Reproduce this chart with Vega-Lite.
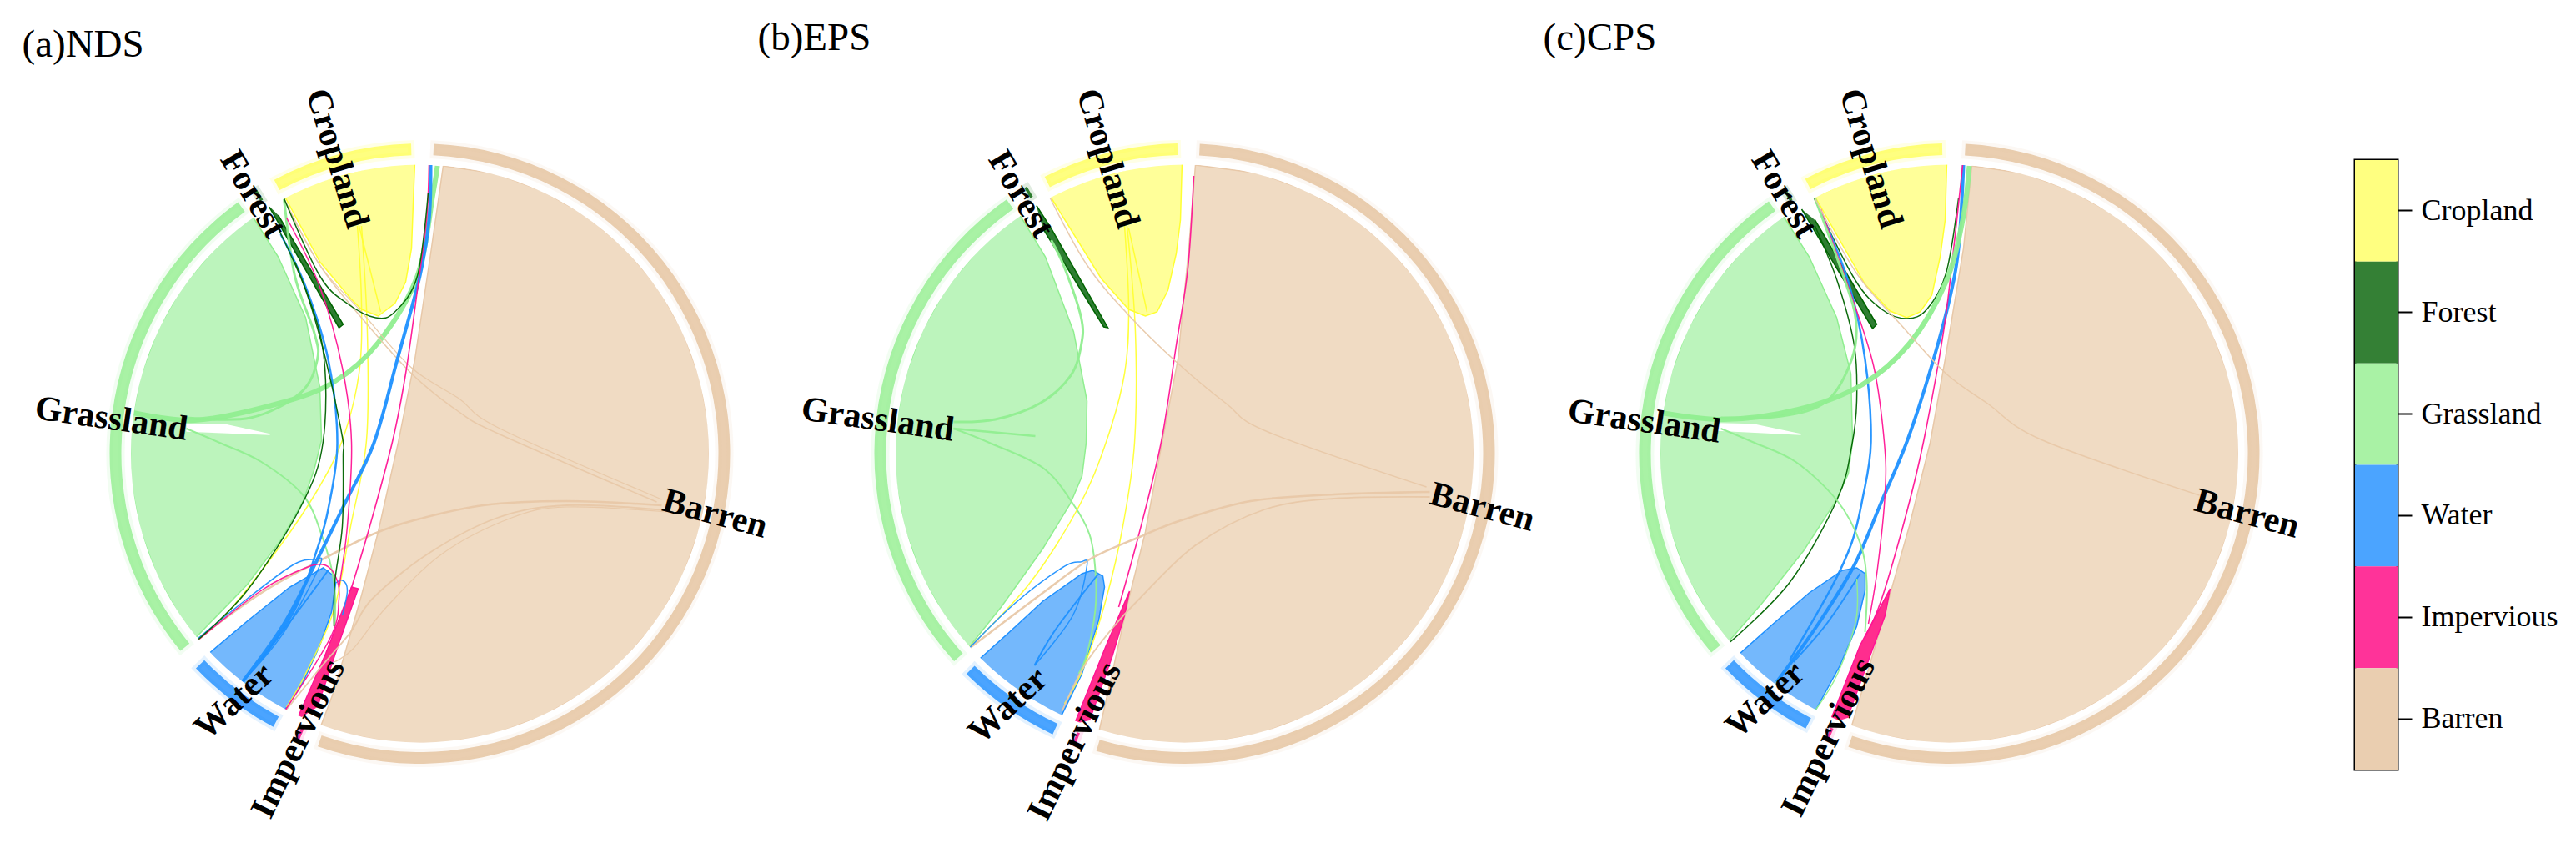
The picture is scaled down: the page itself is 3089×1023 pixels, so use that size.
{"$schema":"https://vega.github.io/schema/vega-lite/v6.json","padding":0,"background":"white","spacing":60,"config":{"view":{"stroke":null}},
"datasets":{"links":[
{"c":"BB","cover":"Barren","shape":"poly"},{"c":"GG","cover":"Grassland","shape":"poly"},{"c":"CC","cover":"Cropland","shape":"poly"},{"c":"WW","cover":"Water","shape":"poly"},{"c":"GAP","cover":"Gap","shape":"poly"},{"c":"FW","cover":"Forest","shape":"poly"},{"c":"IW","cover":"Impervious","shape":"poly"},
{"c":"G1","cover":"Grassland","shape":"thread","flow":6},{"c":"G2","cover":"Grassland","shape":"thread","flow":3},{"c":"G3","cover":"Grassland","shape":"thread","flow":2},{"c":"G4","cover":"Grassland","shape":"thread","flow":2.5},{"c":"G5","cover":"Grassland","shape":"thread","flow":1.5},
{"c":"Y1","cover":"Cropland","shape":"thread","flow":1.5},{"c":"Y2","cover":"Cropland","shape":"thread","flow":1.5},{"c":"Y3","cover":"Cropland","shape":"thread","flow":1.5},
{"c":"B1","cover":"Barren","shape":"thread","flow":2.5},{"c":"B2","cover":"Barren","shape":"thread","flow":1.8},{"c":"B3","cover":"Barren","shape":"thread","flow":1.2},{"c":"B4","cover":"Barren","shape":"thread","flow":1.5},{"c":"B5","cover":"Barren","shape":"thread","flow":1.2},
{"c":"W1","cover":"Water","shape":"thread","flow":4},{"c":"W2","cover":"Water","shape":"thread","flow":2.5},{"c":"W3","cover":"Water","shape":"thread","flow":1.5},{"c":"W4","cover":"Water","shape":"thread","flow":1.5},{"c":"W5","cover":"Water","shape":"thread","flow":2},
{"c":"I1","cover":"Impervious","shape":"thread","flow":1.6},{"c":"I2","cover":"Impervious","shape":"thread","flow":1.5},{"c":"I3","cover":"Impervious","shape":"thread","flow":1.5},
{"c":"F1","cover":"Forest","shape":"thread","flow":1.5},{"c":"F2","cover":"Forest","shape":"thread","flow":1.5},{"c":"F3","cover":"Forest","shape":"thread","flow":1.5}
],"legend":[{"k":"Cropland"},{"k":"Forest"},{"k":"Grassland"},{"k":"Water"},{"k":"Impervious"},{"k":"Barren"}]},
"hconcat":[{
"data":{"values":[
{"p":"NDS","t":"mask","a0":0,"a1":6.2832},{"p":"EPS","t":"mask","a0":0,"a1":6.2832},{"p":"CPS","t":"mask","a0":0,"a1":6.2832},
{"p":"NDS","t":"ring","k":"Barren","a0":0.045,"a1":3.477},{"p":"NDS","t":"ring","k":"Impervious","a0":3.54,"a1":3.55},{"p":"NDS","t":"ring","k":"Water","a0":3.634,"a1":3.948},{"p":"NDS","t":"ring","k":"Grassland","a0":4.023,"a1":5.657},{"p":"NDS","t":"ring","k":"Forest","a0":5.72,"a1":5.73},{"p":"NDS","t":"ring","k":"Cropland","a0":5.794,"a1":6.255},
{"p":"EPS","t":"ring","k":"Barren","a0":0.049,"a1":3.43},{"p":"EPS","t":"ring","k":"Impervious","a0":3.5,"a1":3.51},{"p":"EPS","t":"ring","k":"Water","a0":3.581,"a1":3.922},{"p":"EPS","t":"ring","k":"Grassland","a0":3.979,"a1":5.672},{"p":"EPS","t":"ring","k":"Forest","a0":5.74,"a1":5.75},{"p":"EPS","t":"ring","k":"Cropland","a0":5.815,"a1":6.26},
{"p":"CPS","t":"ring","k":"Barren","a0":0.052,"a1":3.473},{"p":"CPS","t":"ring","k":"Impervious","a0":3.54,"a1":3.55},{"p":"CPS","t":"ring","k":"Water","a0":3.623,"a1":3.948},{"p":"CPS","t":"ring","k":"Grassland","a0":4.016,"a1":5.662},{"p":"CPS","t":"ring","k":"Forest","a0":5.72,"a1":5.73},{"p":"CPS","t":"ring","k":"Cropland","a0":5.8,"a1":6.26},
{"p":"NDS","t":"title","k":"(a)NDS","x":-477,"y":-490},{"p":"EPS","t":"title","k":"(b)EPS","x":-512,"y":-498},{"p":"CPS","t":"title","k":"(c)CPS","x":-487,"y":-498},
{"p":"NDS","t":"label","k":"Cropland","x":-99,"y":-354,"r":73},{"p":"NDS","t":"label","k":"Forest","x":-200,"y":-311,"r":59},{"p":"NDS","t":"label","k":"Grassland","x":-370,"y":-42,"r":8},{"p":"NDS","t":"label","k":"Water","x":-223,"y":297,"r":-43},{"p":"NDS","t":"label","k":"Impervious","x":-146,"y":342,"r":-64},{"p":"NDS","t":"label","k":"Barren","x":354,"y":72,"r":15},
{"p":"EPS","t":"label","k":"Cropland","x":-92,"y":-354,"r":73},{"p":"EPS","t":"label","k":"Forest","x":-196,"y":-311,"r":59},{"p":"EPS","t":"label","k":"Grassland","x":-368,"y":-41,"r":8},{"p":"EPS","t":"label","k":"Water","x":-212,"y":302,"r":-43},{"p":"EPS","t":"label","k":"Impervious","x":-132,"y":345,"r":-64},{"p":"EPS","t":"label","k":"Barren","x":357,"y":64,"r":15},
{"p":"CPS","t":"label","k":"Cropland","x":-94,"y":-354,"r":73},{"p":"CPS","t":"label","k":"Forest","x":-198,"y":-311,"r":59},{"p":"CPS","t":"label","k":"Grassland","x":-366,"y":-39,"r":8},{"p":"CPS","t":"label","k":"Water","x":-221,"y":295,"r":-43},{"p":"CPS","t":"label","k":"Impervious","x":-145,"y":340,"r":-64},{"p":"CPS","t":"label","k":"Barren","x":357,"y":72,"r":15},

{"p":"NDS","c":"BB","x":28,"y":-345},{"p":"NDS","c":"BB","x":90,"y":-336},{"p":"NDS","c":"BB","x":147,"y":-315},{"p":"NDS","c":"BB","x":200,"y":-285},{"p":"NDS","c":"BB","x":246,"y":-246},{"p":"NDS","c":"BB","x":285,"y":-200},{"p":"NDS","c":"BB","x":315,"y":-147},{"p":"NDS","c":"BB","x":336,"y":-90},{"p":"NDS","c":"BB","x":347,"y":-30},{"p":"NDS","c":"BB","x":347,"y":30},{"p":"NDS","c":"BB","x":336,"y":90},{"p":"NDS","c":"BB","x":315,"y":147},{"p":"NDS","c":"BB","x":285,"y":200},{"p":"NDS","c":"BB","x":246,"y":246},{"p":"NDS","c":"BB","x":200,"y":285},{"p":"NDS","c":"BB","x":147,"y":315},{"p":"NDS","c":"BB","x":90,"y":336},{"p":"NDS","c":"BB","x":30,"y":347},{"p":"NDS","c":"BB","x":-30,"y":347},{"p":"NDS","c":"BB","x":-90,"y":336},{"p":"NDS","c":"BB","x":-120,"y":330},{"p":"NDS","c":"BB","x":-105,"y":290},{"p":"NDS","c":"BB","x":-90,"y":240},{"p":"NDS","c":"BB","x":-70,"y":170},{"p":"NDS","c":"BB","x":-50,"y":94},{"p":"NDS","c":"BB","x":-26,"y":-13},{"p":"NDS","c":"BB","x":-6,"y":-113},{"p":"NDS","c":"BB","x":13,"y":-240},{"p":"NDS","c":"BB","x":28,"y":-345},
{"p":"NDS","c":"GG","x":-203,"y":-288},{"p":"NDS","c":"GG","x":-170,"y":-236},{"p":"NDS","c":"GG","x":-137,"y":-163},{"p":"NDS","c":"GG","x":-120,"y":-80},{"p":"NDS","c":"GG","x":-118,"y":-16},{"p":"NDS","c":"GG","x":-127,"y":20},{"p":"NDS","c":"GG","x":-140,"y":57},{"p":"NDS","c":"GG","x":-167,"y":104},{"p":"NDS","c":"GG","x":-207,"y":157},{"p":"NDS","c":"GG","x":-270,"y":222},{"p":"NDS","c":"GG","x":-285,"y":200},{"p":"NDS","c":"GG","x":-315,"y":147},{"p":"NDS","c":"GG","x":-336,"y":90},{"p":"NDS","c":"GG","x":-347,"y":30},{"p":"NDS","c":"GG","x":-347,"y":-30},{"p":"NDS","c":"GG","x":-336,"y":-90},{"p":"NDS","c":"GG","x":-315,"y":-147},{"p":"NDS","c":"GG","x":-285,"y":-200},{"p":"NDS","c":"GG","x":-246,"y":-246},{"p":"NDS","c":"GG","x":-203,"y":-288},
{"p":"NDS","c":"GAP","x":-280,"y":-35},{"p":"NDS","c":"GAP","x":-235,"y":-35},{"p":"NDS","c":"GAP","x":-180,"y":-23},{"p":"NDS","c":"GAP","x":-280,"y":-27},
{"p":"NDS","c":"CC","x":-163,"y":-310},{"p":"NDS","c":"CC","x":-119,"y":-327},{"p":"NDS","c":"CC","x":-60,"y":-343},{"p":"NDS","c":"CC","x":-6,"y":-350},{"p":"NDS","c":"CC","x":-8,"y":-300},{"p":"NDS","c":"CC","x":-10,"y":-246},{"p":"NDS","c":"CC","x":-17,"y":-206},{"p":"NDS","c":"CC","x":-30,"y":-180},{"p":"NDS","c":"CC","x":-50,"y":-165},{"p":"NDS","c":"CC","x":-70,"y":-173},{"p":"NDS","c":"CC","x":-83,"y":-186},{"p":"NDS","c":"CC","x":-120,"y":-230},{"p":"NDS","c":"CC","x":-163,"y":-310},
{"p":"NDS","c":"WW","x":-258,"y":244},{"p":"NDS","c":"WW","x":-210,"y":279},{"p":"NDS","c":"WW","x":-163,"y":309},{"p":"NDS","c":"WW","x":-140,"y":274},{"p":"NDS","c":"WW","x":-120,"y":230},{"p":"NDS","c":"WW","x":-106,"y":190},{"p":"NDS","c":"WW","x":-101,"y":157},{"p":"NDS","c":"WW","x":-103,"y":147},{"p":"NDS","c":"WW","x":-116,"y":137},{"p":"NDS","c":"WW","x":-156,"y":160},{"p":"NDS","c":"WW","x":-206,"y":200},{"p":"NDS","c":"WW","x":-258,"y":244},
{"p":"NDS","c":"FW","x":-182,"y":-298},{"p":"NDS","c":"FW","x":-97,"y":-151},{"p":"NDS","c":"FW","x":-92,"y":-155},{"p":"NDS","c":"FW","x":-170,"y":-286},
{"p":"NDS","c":"IW","x":-148,"y":320},{"p":"NDS","c":"IW","x":-113,"y":240},{"p":"NDS","c":"IW","x":-82,"y":160},{"p":"NDS","c":"IW","x":-74,"y":162},{"p":"NDS","c":"IW","x":-97,"y":227},{"p":"NDS","c":"IW","x":-123,"y":304},
{"p":"NDS","c":"Y1","x":-75,"y":-273},{"p":"NDS","c":"Y1","x":-70,"y":-180},{"p":"NDS","c":"Y1","x":-73,"y":-96},{"p":"NDS","c":"Y1","x":-93,"y":-16},{"p":"NDS","c":"Y1","x":-123,"y":44},{"p":"NDS","c":"Y1","x":-167,"y":110},{"p":"NDS","c":"Y1","x":-230,"y":190},{"p":"NDS","c":"Y1","x":-267,"y":224},
{"p":"NDS","c":"Y2","x":-70,"y":-273},{"p":"NDS","c":"Y2","x":-63,"y":-146},{"p":"NDS","c":"Y2","x":-64,"y":-16},{"p":"NDS","c":"Y2","x":-83,"y":87},{"p":"NDS","c":"Y2","x":-103,"y":187},{"p":"NDS","c":"Y2","x":-137,"y":264},{"p":"NDS","c":"Y2","x":-160,"y":304},
{"p":"NDS","c":"Y3","x":-73,"y":-273},{"p":"NDS","c":"Y3","x":-47,"y":-170},
{"p":"NDS","c":"G1","x":-353,"y":-51},{"p":"NDS","c":"G1","x":-270,"y":-40},{"p":"NDS","c":"G1","x":-170,"y":-60},{"p":"NDS","c":"G1","x":-103,"y":-86},{"p":"NDS","c":"G1","x":-50,"y":-133},{"p":"NDS","c":"G1","x":-3,"y":-213},{"p":"NDS","c":"G1","x":16,"y":-313},{"p":"NDS","c":"G1","x":21,"y":-345},
{"p":"NDS","c":"G2","x":-280,"y":-43},{"p":"NDS","c":"G2","x":-203,"y":-43},{"p":"NDS","c":"G2","x":-143,"y":-73},{"p":"NDS","c":"G2","x":-123,"y":-113},{"p":"NDS","c":"G2","x":-127,"y":-146},{"p":"NDS","c":"G2","x":-150,"y":-213},{"p":"NDS","c":"G2","x":-163,"y":-306},
{"p":"NDS","c":"G3","x":-280,"y":-30},{"p":"NDS","c":"G3","x":-240,"y":-13},{"p":"NDS","c":"G3","x":-190,"y":10},{"p":"NDS","c":"G3","x":-140,"y":50},{"p":"NDS","c":"G3","x":-117,"y":100},{"p":"NDS","c":"G3","x":-103,"y":154},{"p":"NDS","c":"G3","x":-102,"y":207},
{"p":"NDS","c":"B1","x":290,"y":62},{"p":"NDS","c":"B1","x":176,"y":57},{"p":"NDS","c":"B1","x":76,"y":62},{"p":"NDS","c":"B1","x":-7,"y":80},{"p":"NDS","c":"B1","x":-57,"y":97},{"p":"NDS","c":"B1","x":-123,"y":130},{"p":"NDS","c":"B1","x":-190,"y":167},{"p":"NDS","c":"B1","x":-270,"y":225},
{"p":"NDS","c":"B2","x":296,"y":68},{"p":"NDS","c":"B2","x":176,"y":62},{"p":"NDS","c":"B2","x":93,"y":77},{"p":"NDS","c":"B2","x":10,"y":120},{"p":"NDS","c":"B2","x":-57,"y":174},{"p":"NDS","c":"B2","x":-83,"y":214},{"p":"NDS","c":"B2","x":-117,"y":254},{"p":"NDS","c":"B2","x":-160,"y":307},
{"p":"NDS","c":"B3","x":296,"y":70},{"p":"NDS","c":"B3","x":176,"y":64},{"p":"NDS","c":"B3","x":110,"y":77},{"p":"NDS","c":"B3","x":27,"y":120},{"p":"NDS","c":"B3","x":-40,"y":184},{"p":"NDS","c":"B3","x":-80,"y":234},{"p":"NDS","c":"B3","x":-103,"y":250},
{"p":"NDS","c":"B4","x":-163,"y":-306},{"p":"NDS","c":"B4","x":-120,"y":-226},{"p":"NDS","c":"B4","x":-70,"y":-163},{"p":"NDS","c":"B4","x":-10,"y":-96},{"p":"NDS","c":"B4","x":47,"y":-50},{"p":"NDS","c":"B4","x":96,"y":-23},{"p":"NDS","c":"B4","x":284,"y":58},
{"p":"NDS","c":"B5","x":-163,"y":-306},{"p":"NDS","c":"B5","x":-120,"y":-226},{"p":"NDS","c":"B5","x":-70,"y":-170},{"p":"NDS","c":"B5","x":-10,"y":-103},{"p":"NDS","c":"B5","x":47,"y":-66},{"p":"NDS","c":"B5","x":96,"y":-30},{"p":"NDS","c":"B5","x":290,"y":55},
{"p":"NDS","c":"W1","x":13,"y":-346},{"p":"NDS","c":"W1","x":11,"y":-280},{"p":"NDS","c":"W1","x":0,"y":-213},{"p":"NDS","c":"W1","x":-27,"y":-113},{"p":"NDS","c":"W1","x":-55,"y":-13},{"p":"NDS","c":"W1","x":-90,"y":60},{"p":"NDS","c":"W1","x":-123,"y":127},{"p":"NDS","c":"W1","x":-163,"y":204},{"p":"NDS","c":"W1","x":-213,"y":274},
{"p":"NDS","c":"W2","x":-167,"y":-263},{"p":"NDS","c":"W2","x":-137,"y":-200},{"p":"NDS","c":"W2","x":-110,"y":-113},{"p":"NDS","c":"W2","x":-99,"y":-13},{"p":"NDS","c":"W2","x":-110,"y":67},{"p":"NDS","c":"W2","x":-123,"y":114},{"p":"NDS","c":"W2","x":-150,"y":187},{"p":"NDS","c":"W2","x":-190,"y":247},
{"p":"NDS","c":"W3","x":-270,"y":225},{"p":"NDS","c":"W3","x":-207,"y":174},{"p":"NDS","c":"W3","x":-153,"y":134},{"p":"NDS","c":"W3","x":-127,"y":127},{"p":"NDS","c":"W3","x":-120,"y":134},{"p":"NDS","c":"W3","x":-163,"y":214},{"p":"NDS","c":"W3","x":-213,"y":274},
{"p":"NDS","c":"W4","x":-103,"y":157},{"p":"NDS","c":"W4","x":-93,"y":152},{"p":"NDS","c":"W4","x":-87,"y":164},{"p":"NDS","c":"W4","x":-93,"y":194},
{"p":"NDS","c":"W5","x":-193,"y":250},{"p":"NDS","c":"W5","x":-150,"y":194},{"p":"NDS","c":"W5","x":-110,"y":140},
{"p":"NDS","c":"I1","x":11,"y":-346},{"p":"NDS","c":"I1","x":8,"y":-280},{"p":"NDS","c":"I1","x":-3,"y":-196},{"p":"NDS","c":"I1","x":-17,"y":-96},{"p":"NDS","c":"I1","x":-33,"y":-14},{"p":"NDS","c":"I1","x":-60,"y":87},{"p":"NDS","c":"I1","x":-83,"y":164},
{"p":"NDS","c":"I2","x":-160,"y":-283},{"p":"NDS","c":"I2","x":-120,"y":-200},{"p":"NDS","c":"I2","x":-93,"y":-103},{"p":"NDS","c":"I2","x":-82,"y":-14},{"p":"NDS","c":"I2","x":-87,"y":87},{"p":"NDS","c":"I2","x":-97,"y":160},
{"p":"NDS","c":"I3","x":-270,"y":227},{"p":"NDS","c":"I3","x":-190,"y":164},{"p":"NDS","c":"I3","x":-137,"y":137},{"p":"NDS","c":"I3","x":-113,"y":134},{"p":"NDS","c":"I3","x":-100,"y":150},{"p":"NDS","c":"I3","x":-97,"y":174},{"p":"NDS","c":"I3","x":-107,"y":220},{"p":"NDS","c":"I3","x":-163,"y":310},
{"p":"NDS","c":"F1","x":-163,"y":-306},{"p":"NDS","c":"F1","x":-120,"y":-213},{"p":"NDS","c":"F1","x":-87,"y":-180},{"p":"NDS","c":"F1","x":-53,"y":-163},{"p":"NDS","c":"F1","x":-30,"y":-170},{"p":"NDS","c":"F1","x":-3,"y":-213},{"p":"NDS","c":"F1","x":10,"y":-313},
{"p":"NDS","c":"F2","x":-170,"y":-270},{"p":"NDS","c":"F2","x":-137,"y":-196},{"p":"NDS","c":"F2","x":-113,"y":-113},{"p":"NDS","c":"F2","x":-93,"y":-20},{"p":"NDS","c":"F2","x":-92,"y":4},{"p":"NDS","c":"F2","x":-93,"y":87},{"p":"NDS","c":"F2","x":-102,"y":154},{"p":"NDS","c":"F2","x":-103,"y":207},
{"p":"NDS","c":"F3","x":-150,"y":-230},{"p":"NDS","c":"F3","x":-117,"y":-130},{"p":"NDS","c":"F3","x":-116,"y":-15},{"p":"NDS","c":"F3","x":-143,"y":64},{"p":"NDS","c":"F3","x":-207,"y":164},{"p":"NDS","c":"F3","x":-267,"y":224},

{"p":"EPS","c":"BB","x":13,"y":-346},{"p":"EPS","c":"BB","x":90,"y":-336},{"p":"EPS","c":"BB","x":147,"y":-315},{"p":"EPS","c":"BB","x":200,"y":-285},{"p":"EPS","c":"BB","x":246,"y":-246},{"p":"EPS","c":"BB","x":285,"y":-200},{"p":"EPS","c":"BB","x":315,"y":-147},{"p":"EPS","c":"BB","x":336,"y":-90},{"p":"EPS","c":"BB","x":347,"y":-30},{"p":"EPS","c":"BB","x":347,"y":30},{"p":"EPS","c":"BB","x":336,"y":90},{"p":"EPS","c":"BB","x":315,"y":147},{"p":"EPS","c":"BB","x":285,"y":200},{"p":"EPS","c":"BB","x":246,"y":246},{"p":"EPS","c":"BB","x":200,"y":285},{"p":"EPS","c":"BB","x":147,"y":315},{"p":"EPS","c":"BB","x":90,"y":336},{"p":"EPS","c":"BB","x":30,"y":347},{"p":"EPS","c":"BB","x":-30,"y":347},{"p":"EPS","c":"BB","x":-103,"y":335},{"p":"EPS","c":"BB","x":-86,"y":260},{"p":"EPS","c":"BB","x":-70,"y":187},{"p":"EPS","c":"BB","x":-47,"y":94},{"p":"EPS","c":"BB","x":-27,"y":-13},{"p":"EPS","c":"BB","x":-8,"y":-113},{"p":"EPS","c":"BB","x":5,"y":-246},{"p":"EPS","c":"BB","x":13,"y":-346},
{"p":"EPS","c":"GG","x":-200,"y":-290},{"p":"EPS","c":"GG","x":-167,"y":-236},{"p":"EPS","c":"GG","x":-133,"y":-146},{"p":"EPS","c":"GG","x":-117,"y":-63},{"p":"EPS","c":"GG","x":-118,"y":-13},{"p":"EPS","c":"GG","x":-123,"y":27},{"p":"EPS","c":"GG","x":-137,"y":60},{"p":"EPS","c":"GG","x":-170,"y":114},{"p":"EPS","c":"GG","x":-220,"y":184},{"p":"EPS","c":"GG","x":-260,"y":234},{"p":"EPS","c":"GG","x":-285,"y":200},{"p":"EPS","c":"GG","x":-315,"y":147},{"p":"EPS","c":"GG","x":-336,"y":90},{"p":"EPS","c":"GG","x":-347,"y":30},{"p":"EPS","c":"GG","x":-347,"y":-30},{"p":"EPS","c":"GG","x":-336,"y":-90},{"p":"EPS","c":"GG","x":-315,"y":-147},{"p":"EPS","c":"GG","x":-285,"y":-200},{"p":"EPS","c":"GG","x":-246,"y":-246},{"p":"EPS","c":"GG","x":-200,"y":-290},
{"p":"EPS","c":"CC","x":-162,"y":-310},{"p":"EPS","c":"CC","x":-119,"y":-327},{"p":"EPS","c":"CC","x":-60,"y":-343},{"p":"EPS","c":"CC","x":-3,"y":-350},{"p":"EPS","c":"CC","x":-5,"y":-280},{"p":"EPS","c":"CC","x":-10,"y":-240},{"p":"EPS","c":"CC","x":-20,"y":-196},{"p":"EPS","c":"CC","x":-33,"y":-170},{"p":"EPS","c":"CC","x":-47,"y":-165},{"p":"EPS","c":"CC","x":-67,"y":-173},{"p":"EPS","c":"CC","x":-100,"y":-210},{"p":"EPS","c":"CC","x":-162,"y":-310},
{"p":"EPS","c":"WW","x":-250,"y":250},{"p":"EPS","c":"WW","x":-200,"y":287},{"p":"EPS","c":"WW","x":-148,"y":315},{"p":"EPS","c":"WW","x":-123,"y":264},{"p":"EPS","c":"WW","x":-103,"y":200},{"p":"EPS","c":"WW","x":-96,"y":160},{"p":"EPS","c":"WW","x":-98,"y":147},{"p":"EPS","c":"WW","x":-110,"y":140},{"p":"EPS","c":"WW","x":-123,"y":144},{"p":"EPS","c":"WW","x":-170,"y":177},{"p":"EPS","c":"WW","x":-210,"y":214},{"p":"EPS","c":"WW","x":-250,"y":250},
{"p":"EPS","c":"FW","x":-178,"y":-298},{"p":"EPS","c":"FW","x":-160,"y":-270},{"p":"EPS","c":"FW","x":-92,"y":-151},{"p":"EPS","c":"FW","x":-97,"y":-152},{"p":"EPS","c":"FW","x":-170,"y":-270},
{"p":"EPS","c":"IW","x":-132,"y":324},{"p":"EPS","c":"IW","x":-94,"y":230},{"p":"EPS","c":"IW","x":-66,"y":165},{"p":"EPS","c":"IW","x":-72,"y":194},{"p":"EPS","c":"IW","x":-87,"y":244},{"p":"EPS","c":"IW","x":-114,"y":320},
{"p":"EPS","c":"G2","x":-277,"y":-38},{"p":"EPS","c":"G2","x":-227,"y":-41},{"p":"EPS","c":"G2","x":-174,"y":-60},{"p":"EPS","c":"G2","x":-137,"y":-93},{"p":"EPS","c":"G2","x":-124,"y":-130},{"p":"EPS","c":"G2","x":-124,"y":-163},{"p":"EPS","c":"G2","x":-144,"y":-223},{"p":"EPS","c":"G2","x":-160,"y":-256},
{"p":"EPS","c":"G3","x":-277,"y":-30},{"p":"EPS","c":"G3","x":-234,"y":-13},{"p":"EPS","c":"G3","x":-170,"y":17},{"p":"EPS","c":"G3","x":-134,"y":60},{"p":"EPS","c":"G3","x":-114,"y":97},{"p":"EPS","c":"G3","x":-107,"y":140},{"p":"EPS","c":"G3","x":-107,"y":187},{"p":"EPS","c":"G3","x":-117,"y":240},{"p":"EPS","c":"G3","x":-127,"y":264},
{"p":"EPS","c":"G4","x":-277,"y":-30},{"p":"EPS","c":"G4","x":-179,"y":-21},
{"p":"EPS","c":"Y1","x":-72,"y":-273},{"p":"EPS","c":"Y1","x":-67,"y":-173},{"p":"EPS","c":"Y1","x":-72,"y":-96},{"p":"EPS","c":"Y1","x":-94,"y":-14},{"p":"EPS","c":"Y1","x":-127,"y":64},{"p":"EPS","c":"Y1","x":-187,"y":157},{"p":"EPS","c":"Y1","x":-260,"y":234},
{"p":"EPS","c":"Y2","x":-69,"y":-273},{"p":"EPS","c":"Y2","x":-59,"y":-146},{"p":"EPS","c":"Y2","x":-60,"y":-13},{"p":"EPS","c":"Y2","x":-74,"y":87},{"p":"EPS","c":"Y2","x":-94,"y":174},{"p":"EPS","c":"Y2","x":-120,"y":254},{"p":"EPS","c":"Y2","x":-144,"y":300},
{"p":"EPS","c":"Y3","x":-67,"y":-270},{"p":"EPS","c":"Y3","x":-45,"y":-170},
{"p":"EPS","c":"I1","x":11,"y":-333},{"p":"EPS","c":"I1","x":4,"y":-223},{"p":"EPS","c":"I1","x":-10,"y":-130},{"p":"EPS","c":"I1","x":-28,"y":-14},{"p":"EPS","c":"I1","x":-54,"y":94},{"p":"EPS","c":"I1","x":-79,"y":184},
{"p":"EPS","c":"B1","x":294,"y":46},{"p":"EPS","c":"B1","x":179,"y":49},{"p":"EPS","c":"B1","x":79,"y":57},{"p":"EPS","c":"B1","x":-4,"y":80},{"p":"EPS","c":"B1","x":-54,"y":100},{"p":"EPS","c":"B1","x":-114,"y":127},{"p":"EPS","c":"B1","x":-170,"y":167},{"p":"EPS","c":"B1","x":-260,"y":235},
{"p":"EPS","c":"B2","x":294,"y":52},{"p":"EPS","c":"B2","x":179,"y":54},{"p":"EPS","c":"B2","x":96,"y":67},{"p":"EPS","c":"B2","x":13,"y":110},{"p":"EPS","c":"B2","x":-54,"y":174},{"p":"EPS","c":"B2","x":-87,"y":210},{"p":"EPS","c":"B2","x":-120,"y":254},{"p":"EPS","c":"B2","x":-147,"y":309},
{"p":"EPS","c":"B4","x":-162,"y":-308},{"p":"EPS","c":"B4","x":-117,"y":-226},{"p":"EPS","c":"B4","x":-67,"y":-166},{"p":"EPS","c":"B4","x":-10,"y":-110},{"p":"EPS","c":"B4","x":50,"y":-60},{"p":"EPS","c":"B4","x":100,"y":-26},{"p":"EPS","c":"B4","x":290,"y":40},
{"p":"EPS","c":"W3","x":-260,"y":235},{"p":"EPS","c":"W3","x":-204,"y":180},{"p":"EPS","c":"W3","x":-147,"y":137},{"p":"EPS","c":"W3","x":-125,"y":130},{"p":"EPS","c":"W3","x":-117,"y":134},{"p":"EPS","c":"W3","x":-134,"y":194},{"p":"EPS","c":"W3","x":-180,"y":254},
{"p":"EPS","c":"W5","x":-104,"y":145},{"p":"EPS","c":"W5","x":-154,"y":210},{"p":"EPS","c":"W5","x":-180,"y":254},

{"p":"CPS","c":"BB","x":27,"y":-345},{"p":"CPS","c":"BB","x":90,"y":-336},{"p":"CPS","c":"BB","x":147,"y":-315},{"p":"CPS","c":"BB","x":200,"y":-285},{"p":"CPS","c":"BB","x":246,"y":-246},{"p":"CPS","c":"BB","x":285,"y":-200},{"p":"CPS","c":"BB","x":315,"y":-147},{"p":"CPS","c":"BB","x":336,"y":-90},{"p":"CPS","c":"BB","x":347,"y":-30},{"p":"CPS","c":"BB","x":347,"y":30},{"p":"CPS","c":"BB","x":336,"y":90},{"p":"CPS","c":"BB","x":315,"y":147},{"p":"CPS","c":"BB","x":285,"y":200},{"p":"CPS","c":"BB","x":246,"y":246},{"p":"CPS","c":"BB","x":200,"y":285},{"p":"CPS","c":"BB","x":147,"y":315},{"p":"CPS","c":"BB","x":90,"y":336},{"p":"CPS","c":"BB","x":30,"y":347},{"p":"CPS","c":"BB","x":-30,"y":347},{"p":"CPS","c":"BB","x":-90,"y":336},{"p":"CPS","c":"BB","x":-118,"y":330},{"p":"CPS","c":"BB","x":-81,"y":204},{"p":"CPS","c":"BB","x":-48,"y":87},{"p":"CPS","c":"BB","x":-23,"y":-13},{"p":"CPS","c":"BB","x":-5,"y":-113},{"p":"CPS","c":"BB","x":17,"y":-246},{"p":"CPS","c":"BB","x":27,"y":-345},
{"p":"CPS","c":"GG","x":-201,"y":-288},{"p":"CPS","c":"GG","x":-168,"y":-236},{"p":"CPS","c":"GG","x":-135,"y":-163},{"p":"CPS","c":"GG","x":-118,"y":-96},{"p":"CPS","c":"GG","x":-116,"y":-14},{"p":"CPS","c":"GG","x":-121,"y":24},{"p":"CPS","c":"GG","x":-136,"y":57},{"p":"CPS","c":"GG","x":-175,"y":117},{"p":"CPS","c":"GG","x":-225,"y":180},{"p":"CPS","c":"GG","x":-266,"y":227},{"p":"CPS","c":"GG","x":-285,"y":200},{"p":"CPS","c":"GG","x":-315,"y":147},{"p":"CPS","c":"GG","x":-336,"y":90},{"p":"CPS","c":"GG","x":-347,"y":30},{"p":"CPS","c":"GG","x":-347,"y":-30},{"p":"CPS","c":"GG","x":-336,"y":-90},{"p":"CPS","c":"GG","x":-315,"y":-147},{"p":"CPS","c":"GG","x":-285,"y":-200},{"p":"CPS","c":"GG","x":-246,"y":-246},{"p":"CPS","c":"GG","x":-201,"y":-288},
{"p":"CPS","c":"GAP","x":-278,"y":-36},{"p":"CPS","c":"GAP","x":-235,"y":-35},{"p":"CPS","c":"GAP","x":-178,"y":-23},{"p":"CPS","c":"GAP","x":-278,"y":-28},
{"p":"CPS","c":"CC","x":-161,"y":-308},{"p":"CPS","c":"CC","x":-119,"y":-327},{"p":"CPS","c":"CC","x":-60,"y":-343},{"p":"CPS","c":"CC","x":-3,"y":-350},{"p":"CPS","c":"CC","x":-5,"y":-280},{"p":"CPS","c":"CC","x":-11,"y":-236},{"p":"CPS","c":"CC","x":-21,"y":-190},{"p":"CPS","c":"CC","x":-35,"y":-170},{"p":"CPS","c":"CC","x":-51,"y":-163},{"p":"CPS","c":"CC","x":-71,"y":-171},{"p":"CPS","c":"CC","x":-101,"y":-203},{"p":"CPS","c":"CC","x":-161,"y":-308},
{"p":"CPS","c":"WW","x":-256,"y":244},{"p":"CPS","c":"WW","x":-210,"y":279},{"p":"CPS","c":"WW","x":-161,"y":309},{"p":"CPS","c":"WW","x":-131,"y":254},{"p":"CPS","c":"WW","x":-111,"y":207},{"p":"CPS","c":"WW","x":-101,"y":164},{"p":"CPS","c":"WW","x":-101,"y":144},{"p":"CPS","c":"WW","x":-111,"y":137},{"p":"CPS","c":"WW","x":-128,"y":140},{"p":"CPS","c":"WW","x":-168,"y":167},{"p":"CPS","c":"WW","x":-211,"y":204},{"p":"CPS","c":"WW","x":-256,"y":244},
{"p":"CPS","c":"FW","x":-177,"y":-293},{"p":"CPS","c":"FW","x":-92,"y":-150},{"p":"CPS","c":"FW","x":-87,"y":-155},{"p":"CPS","c":"FW","x":-161,"y":-280},
{"p":"CPS","c":"IW","x":-144,"y":324},{"p":"CPS","c":"IW","x":-107,"y":230},{"p":"CPS","c":"IW","x":-71,"y":162},{"p":"CPS","c":"IW","x":-77,"y":194},{"p":"CPS","c":"IW","x":-94,"y":240},{"p":"CPS","c":"IW","x":-122,"y":317},
{"p":"CPS","c":"F1","x":-162,"y":-306},{"p":"CPS","c":"F1","x":-114,"y":-210},{"p":"CPS","c":"F1","x":-81,"y":-173},{"p":"CPS","c":"F1","x":-51,"y":-162},{"p":"CPS","c":"F1","x":-27,"y":-173},{"p":"CPS","c":"F1","x":-4,"y":-216},{"p":"CPS","c":"F1","x":11,"y":-306},
{"p":"CPS","c":"F2","x":-161,"y":-273},{"p":"CPS","c":"F2","x":-134,"y":-206},{"p":"CPS","c":"F2","x":-114,"y":-130},{"p":"CPS","c":"F2","x":-111,"y":-63},{"p":"CPS","c":"F2","x":-117,"y":-9},{"p":"CPS","c":"F2","x":-134,"y":54},{"p":"CPS","c":"F2","x":-191,"y":154},{"p":"CPS","c":"F2","x":-264,"y":227},
{"p":"CPS","c":"W1","x":17,"y":-346},{"p":"CPS","c":"W1","x":11,"y":-246},{"p":"CPS","c":"W1","x":-1,"y":-180},{"p":"CPS","c":"W1","x":-24,"y":-96},{"p":"CPS","c":"W1","x":-51,"y":-14},{"p":"CPS","c":"W1","x":-81,"y":57},{"p":"CPS","c":"W1","x":-114,"y":134},{"p":"CPS","c":"W1","x":-157,"y":204},{"p":"CPS","c":"W1","x":-207,"y":274},
{"p":"CPS","c":"W2","x":-157,"y":-296},{"p":"CPS","c":"W2","x":-121,"y":-206},{"p":"CPS","c":"W2","x":-101,"y":-113},{"p":"CPS","c":"W2","x":-94,"y":-14},{"p":"CPS","c":"W2","x":-104,"y":54},{"p":"CPS","c":"W2","x":-117,"y":107},{"p":"CPS","c":"W2","x":-141,"y":160},{"p":"CPS","c":"W2","x":-191,"y":247},
{"p":"CPS","c":"W5","x":-107,"y":144},{"p":"CPS","c":"W5","x":-147,"y":204},{"p":"CPS","c":"W5","x":-187,"y":250},
{"p":"CPS","c":"I1","x":16,"y":-346},{"p":"CPS","c":"I1","x":6,"y":-253},{"p":"CPS","c":"I1","x":-7,"y":-146},{"p":"CPS","c":"I1","x":-31,"y":-14},{"p":"CPS","c":"I1","x":-51,"y":70},{"p":"CPS","c":"I1","x":-81,"y":174},{"p":"CPS","c":"I1","x":-101,"y":220},
{"p":"CPS","c":"I2","x":-154,"y":-293},{"p":"CPS","c":"I2","x":-121,"y":-200},{"p":"CPS","c":"I2","x":-91,"y":-106},{"p":"CPS","c":"I2","x":-78,"y":-14},{"p":"CPS","c":"I2","x":-77,"y":47},{"p":"CPS","c":"I2","x":-86,"y":137},{"p":"CPS","c":"I2","x":-97,"y":204},
{"p":"CPS","c":"G1","x":-351,"y":-50},{"p":"CPS","c":"G1","x":-271,"y":-41},{"p":"CPS","c":"G1","x":-181,"y":-53},{"p":"CPS","c":"G1","x":-104,"y":-83},{"p":"CPS","c":"G1","x":-47,"y":-133},{"p":"CPS","c":"G1","x":-4,"y":-206},{"p":"CPS","c":"G1","x":16,"y":-280},{"p":"CPS","c":"G1","x":24,"y":-345},
{"p":"CPS","c":"G2","x":-274,"y":-43},{"p":"CPS","c":"G2","x":-201,"y":-45},{"p":"CPS","c":"G2","x":-147,"y":-63},{"p":"CPS","c":"G2","x":-117,"y":-113},{"p":"CPS","c":"G2","x":-112,"y":-160},{"p":"CPS","c":"G2","x":-127,"y":-213},{"p":"CPS","c":"G2","x":-161,"y":-306},
{"p":"CPS","c":"G3","x":-274,"y":-30},{"p":"CPS","c":"G3","x":-236,"y":-14},{"p":"CPS","c":"G3","x":-184,"y":10},{"p":"CPS","c":"G3","x":-134,"y":57},{"p":"CPS","c":"G3","x":-107,"y":107},{"p":"CPS","c":"G3","x":-99,"y":154},{"p":"CPS","c":"G3","x":-101,"y":214},
{"p":"CPS","c":"G5","x":-111,"y":150},{"p":"CPS","c":"G5","x":-112,"y":200},{"p":"CPS","c":"G5","x":-134,"y":264},{"p":"CPS","c":"G5","x":-160,"y":307},
{"p":"CPS","c":"B4","x":-161,"y":-306},{"p":"CPS","c":"B4","x":-111,"y":-216},{"p":"CPS","c":"B4","x":-54,"y":-150},{"p":"CPS","c":"B4","x":-4,"y":-96},{"p":"CPS","c":"B4","x":46,"y":-60},{"p":"CPS","c":"B4","x":112,"y":-16},{"p":"CPS","c":"B4","x":300,"y":50}
]},
"transform":[{"lookup":"c","from":{"data":{"name":"links"},"key":"c","fields":["cover","shape","flow"]}}],
"bounds":"flush","spacing":0,
"facet":{"column":{"field":"p","type":"nominal","sort":["NDS","EPS","CPS"],"header":null}},
"spec":{"width":917,"height":1023,
"layer":[
{"transform":[{"filter":"datum.shape==='poly'"}],"mark":{"type":"line","strokeWidth":1.5},
"encoding":{"x":{"field":"x","type":"quantitative","scale":{"domain":[-503.5,413.5],"nice":false,"zero":false},"axis":null},"y":{"field":"y","type":"quantitative","scale":{"domain":[-543,480],"nice":false,"zero":false,"reverse":true},"axis":null},"order":{"value":null},"detail":{"field":"c"},
"fill":{"field":"cover","type":"nominal","legend":null,"scale":{"domain":["Barren","Grassland","Cropland","Water","Forest","Impervious","Gap"],"range":["#F0DBC3","#BCF4BC","#FFFF99","#74B8FC","#2E7D32","#FF2D8E","#FFFFFF"]}},
"stroke":{"field":"cover","type":"nominal","legend":null,"scale":{"domain":["Barren","Grassland","Cropland","Water","Forest","Impervious","Gap"],"range":["#E8C8A8","#90EE90","#FFFF33","#1E90FF","#006400","#FF1493","#FFFFFF"]}}}},
{"transform":[{"filter":"datum.shape==='thread'"}],"mark":{"type":"line","interpolate":"cardinal","opacity":0.95},
"encoding":{"x":{"field":"x","type":"quantitative","axis":null},"y":{"field":"y","type":"quantitative","axis":null},"order":{"value":null},"detail":{"field":"c"},"strokeWidth":{"field":"flow","type":"quantitative","scale":null,"legend":null},
"stroke":{"field":"cover","type":"nominal","legend":null}}},
{"transform":[{"filter":"datum.t==='mask'"}],"mark":{"type":"arc","outerRadius":358,"innerRadius":346.5,"fill":"#FFFFFF"},
"encoding":{"x":{"datum":0,"type":"quantitative","axis":null},"y":{"datum":0,"type":"quantitative","axis":null},"theta":{"field":"a0","type":"quantitative","scale":null},"theta2":{"field":"a1"}}},
{"transform":[{"filter":"datum.t==='ring'"}],"mark":{"type":"arc","outerRadius":372,"innerRadius":358,"strokeWidth":8,"strokeOpacity":0.12},
"encoding":{"x":{"datum":0,"type":"quantitative","axis":null},"y":{"datum":0,"type":"quantitative","axis":null},"theta":{"field":"a0","type":"quantitative","scale":null},"theta2":{"field":"a1"},
"color":{"field":"k","type":"nominal","legend":null,"scale":{"domain":["Cropland","Forest","Grassland","Water","Impervious","Barren"],"range":["#FFFF80","#348035","#A9F2A5","#4BA4FF","#FF3399","#EACEB0"]}},
"stroke":{"field":"k","type":"nominal","legend":null}}},
{"transform":[{"filter":"datum.t==='label'"}],"mark":{"type":"text","font":"Liberation Serif","fontWeight":"bold","fontSize":42,"align":"center","baseline":"middle","color":"#000"},
"encoding":{"x":{"field":"x","type":"quantitative","axis":null},"y":{"field":"y","type":"quantitative","axis":null},"text":{"field":"k"},"angle":{"field":"r","type":"quantitative","scale":null}}},
{"transform":[{"filter":"datum.t==='title'"}],"mark":{"type":"text","font":"Liberation Serif","fontSize":47,"align":"left","baseline":"middle","color":"#000"},
"encoding":{"x":{"field":"x","type":"quantitative","axis":null},"y":{"field":"y","type":"quantitative","axis":null},"text":{"field":"k"}}}
]}},
{"vconcat":[
{"width":51,"height":191,"data":{"values":[{}]},"mark":{"type":"rule","opacity":0},"encoding":{}},
{"width":51,"height":731,"view":{"stroke":"#000","strokeWidth":3},"data":{"name":"legend"},"mark":{"type":"bar"},
"encoding":{"y":{"field":"k","type":"nominal","sort":null,"scale":{"paddingInner":0,"paddingOuter":0},"axis":{"orient":"right","title":null,"domain":false,"ticks":true,"tickColor":"#000","tickWidth":2,"tickSize":17,"labelFont":"Liberation Serif","labelFontSize":36,"labelColor":"#000","labelPadding":11,"labelAngle":0}},
"color":{"field":"k","type":"nominal","legend":null,"scale":{"domain":["Cropland","Forest","Grassland","Water","Impervious","Barren"],"range":["#FFFF80","#348035","#A9F2A5","#4BA4FF","#FF3399","#EACEB0"]}}}}
],"spacing":0,"bounds":"flush"}
]}
